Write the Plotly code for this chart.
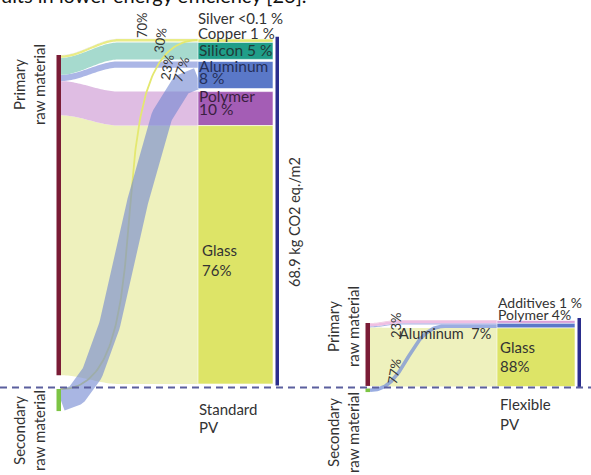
import numpy as np
import plotly.graph_objects as go

# ---------------- data ----------------
std_materials = ["Silver", "Copper", "Silicon", "Aluminum", "Polymer", "Glass"]
std_share = [0.1, 1, 5, 8, 10, 76]            # % of 68.9 kg CO2 eq./m2
std_primary = [1.0, 0.70, 1.0, 0.23, 1.0, 1.0]  # share from primary raw material
std_total = "68.9 kg CO2 eq./m2"

flex_materials = ["Additives", "Polymer", "Aluminum", "Glass"]
flex_share = [1, 4, 7, 88]
flex_primary = [1.0, 1.0, 0.23, 1.0]

# ---------------- styles ----------------
FONT = "Lato"
TXT = "#333333"
strong = {"Silver": "#c8c8c8", "Copper": "#e4e870", "Silicon": "#1f9e89",
          "Aluminum": "#5a78c8", "Polymer": "#a45db5", "Glass": "#dde467",
          "Additives": "#e6a6cf"}
light = {"Silver": "rgba(220,220,220,0.8)", "Copper": "#e9ec86",
         "Silicon": "#a6dace", "Aluminum": "#abb6e6", "Polymer": "#dfbde3",
         "Glass": "#eef1bd", "Additives": "#f0c6df"}
flex_strong = dict(strong, Polymer="#d596d3")
flex_light = dict(light, Polymer="#efbfe3")

fig = go.Figure()
shapes = []
annots = []


def smooth_band(xl, xr, span, yl0, yl1, yr0, yr1, color):
    xs = np.linspace(xl, xr, 80)
    t = np.clip((xs - xl) / span, 0, 1)
    s = 3 * t ** 2 - 2 * t ** 3
    top = yl0 + (yr0 - yl0) * s
    bot = yl1 + (yr1 - yl1) * s
    fig.add_trace(go.Scatter(x=np.r_[xs, xs[::-1]], y=np.r_[top, bot[::-1]],
                             fill="toself", fillcolor=color, mode="none",
                             hoverinfo="skip", showlegend=False))


def thick_curve(x0, y0, x3, y3, k, xend, width, color):
    dx = x3 - x0
    t = np.linspace(0, 1, 120)
    px = [x0, x0 + k * dx, x3 - k * dx, x3]
    py = [y0, y0, y3, y3]
    bx = ((1 - t) ** 3 * px[0] + 3 * (1 - t) ** 2 * t * px[1]
          + 3 * (1 - t) * t ** 2 * px[2] + t ** 3 * px[3])
    by = ((1 - t) ** 3 * py[0] + 3 * (1 - t) ** 2 * t * py[1]
          + 3 * (1 - t) * t ** 2 * py[2] + t ** 3 * py[3])
    if xend > x3:
        bx = np.r_[bx, xend]
        by = np.r_[by, y3]
    fig.add_trace(go.Scatter(x=bx, y=by, mode="lines",
                             line=dict(color=color, width=width),
                             hoverinfo="skip", showlegend=False))


def draw_pv(mats, share, prim, geo, cs, cl):
    sl, sr = geo["scale_left"], geo["scale_right"]
    # right stack, built upward from the bottom
    seg = {}
    y = geo["bottom"]
    for i in range(len(mats) - 1, -1, -1):
        h = share[i] * sr
        seg[mats[i]] = (y - h, y)
        y = y - h - geo["gaps"][i]
    top_stack = y + geo["gaps"][0]
    # left primary bar (top -> down)
    lp = {}
    y = geo["prim_top"]
    for m, v, p in zip(mats, share, prim):
        h = v * p * sl
        lp[m] = (y, y + h)
        y += h
    prim_bottom = y
    # left secondary bar
    ls = {}
    y = geo["sec_top"]
    for m, v, p in zip(mats, share, prim):
        if p < 1:
            h = v * (1 - p) * sl
            ls[m] = (y, y + h)
            y += h
    sec_bottom = y
    xl, xr = geo["xl"], geo["xr"]
    # primary flows
    for m, v, p in reversed(list(zip(mats, share, prim))):
        r0, r1 = seg[m]
        rh = (r1 - r0) * p
        smooth_band(xl, xr, geo["span"], lp[m][0], lp[m][1], r0, r0 + rh, cl[m])
    # secondary flows
    for m, v, p in zip(mats, share, prim):
        if p < 1:
            r0, r1 = seg[m]
            rs0 = r0 + (r1 - r0) * p
            yl = (ls[m][0] + ls[m][1]) / 2
            yr = (rs0 + r1) / 2
            w = max((ls[m][1] - ls[m][0]), 1.8)
            st = geo["sec_style"][m]
            thick_curve(xl, yl if m != "Copper" else ls[m][0], xl + st["span"],
                        yr if m != "Copper" else r0 + 1, st["k"], xr, w, st["color"])
    # stack rectangles
    for m in mats:
        y0, y1 = seg[m]
        shapes.append(dict(type="rect", xref="x", yref="y", x0=xr, x1=xr + geo["stack_w"],
                           y0=y0, y1=y1, fillcolor=cs[m], line=dict(color="white", width=0.6),
                           layer="above"))
    # vertical bars
    shapes.append(dict(type="rect", xref="x", yref="y", x0=xl - 4.5, x1=xl, y0=geo["prim_top"],
                       y1=prim_bottom, fillcolor="#7a1c36", line=dict(width=0), layer="above"))
    shapes.append(dict(type="rect", xref="x", yref="y", x0=xl - 4.5, x1=xl, y0=geo["sec_top"],
                       y1=sec_bottom, fillcolor="#7cc444", line=dict(width=0), layer="above"))
    bx = xr + geo["stack_w"] + geo["bar_gap"]
    shapes.append(dict(type="rect", xref="x", yref="y", x0=bx, x1=bx + 3.5, y0=top_stack - 2,
                       y1=geo["bottom"] + 1.5, fillcolor="#2a2d8c", line=dict(width=0), layer="above"))


std_geo = dict(xl=61, xr=198, span=58, stack_w=75, bar_gap=2.5, bottom=384,
               scale_left=3.42, scale_right=3.40, gaps=[0, 0, 0, 2, 3, 0],
               prim_top=55, sec_top=389,
               sec_style={"Copper": dict(k=0.8, span=137, color="#e4e870"),
                          "Aluminum": dict(k=0.5, span=137, color="rgba(112,134,208,0.6)")})
draw_pv(std_materials, std_share, std_primary, std_geo, strong, light)

flex_geo = dict(xl=370, xr=497, span=30, stack_w=78, bar_gap=2.5, bottom=386.5,
                scale_left=0.665, scale_right=0.665, gaps=[0, 0, 0, 0],
                prim_top=323, sec_top=388.5,
                sec_style={"Aluminum": dict(k=0.5, span=75, color="rgba(120,145,215,0.75)")})
draw_pv(flex_materials, flex_share, flex_primary, flex_geo, flex_strong, flex_light)

# dashed baseline between primary / secondary raw material
shapes.append(dict(type="line", xref="x", yref="y", x0=0, x1=591, y0=387.5, y1=387.5,
                   line=dict(color="#5b5f9e", width=1.8, dash="7px,5px"), layer="above"))


def txt(x, y, text, size=14, angle=0, xa="left", ya="middle", align="left", color=TXT):
    annots.append(dict(x=x, y=y, xref="x", yref="y", text=text, showarrow=False,
                       textangle=angle, xanchor=xa, yanchor=ya, align=align,
                       font=dict(family=FONT, size=size, color=color), borderpad=0))


# cut-off caption line from the surrounding page
txt(0, 8, "ults in lower energy efficiency [26].", size=20, ya="bottom", color="#111111")

# standard PV labels
txt(197, 18, "Silver <0.1 %", 15)
txt(197, 33, "Copper 1 %", 15)
txt(198, 50, "Silicon 5 %", 15.5, color="#1f3a38")
txt(198, 66, "Aluminum", 15.5, color="#25305a")
txt(198, 78, "8 %", 15.5, color="#25305a")
txt(198, 96, "Polymer", 15.5, color="#3a1f40")
txt(198, 109, "10 %", 15.5, color="#3a1f40")
txt(201, 250, "Glass", 15)
txt(201, 270, "76%", 15)
txt(294, 222, std_total, 14.5, angle=-90, xa="center")
txt(198, 409, "Standard", 15)
txt(198, 427, "PV", 15)
txt(142, 25, "70%", 13, angle=-90, xa="center")
txt(160, 40, "30%", 13, angle=-82, xa="center")
txt(167, 67, "23%", 13, angle=-80, xa="center")
txt(181, 69, "77%", 13, angle=-72, xa="center")
txt(29, 85, "Primary<br>raw material", 15, angle=-90, xa="center", align="center")
txt(29, 431, "Secondary<br>raw material", 15, angle=-90, xa="center", align="center")

# flexible PV labels
txt(497, 302, "Additives 1 %", 14)
txt(497, 314, "Polymer 4%", 14)
txt(398, 333, "Aluminum  7%", 14.5)
txt(499, 347, "Glass", 15)
txt(499, 366, "88%", 15)
txt(499, 404, "Flexible", 15)
txt(499, 424, "PV", 15)
txt(396, 325, "23%", 13, angle=-90, xa="center")
txt(394, 371, "77%", 13, angle=-80, xa="center")
txt(343, 327, "Primary<br>raw material", 15, angle=-90, xa="center", align="center")
txt(343, 433, "Secondary<br>raw material", 15, angle=-90, xa="center", align="center")

fig.update_layout(
    width=591, height=475, margin=dict(l=0, r=0, t=0, b=0),
    paper_bgcolor="white", plot_bgcolor="white",
    xaxis=dict(range=[0, 591], visible=False, fixedrange=True),
    yaxis=dict(range=[475, 0], visible=False, fixedrange=True),
    shapes=shapes, annotations=annots, showlegend=False,
)
fig.write_html("out.html", config={"displayModeBar": False},
               post_script="document.body.style.margin='0px';")
